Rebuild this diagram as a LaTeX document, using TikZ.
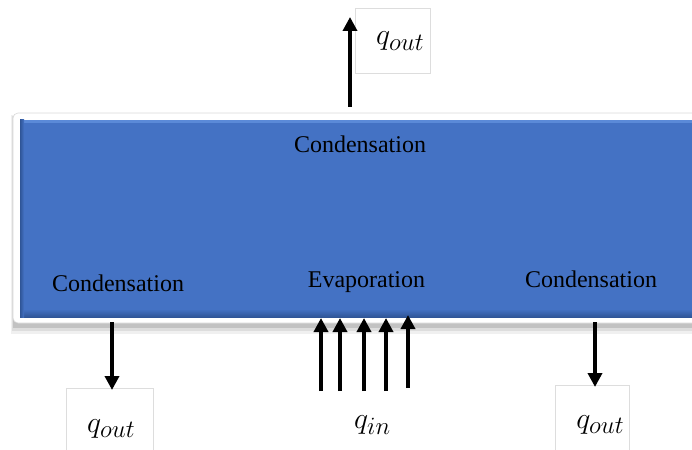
\documentclass[tikz,border=0pt]{standalone}
\usepackage{fontspec}
\setmainfont{Liberation Serif}
\usetikzlibrary{arrows.meta}
\definecolor{hpblue}{HTML}{4472C4}
\definecolor{hpdark}{HTML}{2F5597}
\definecolor{hplight}{HTML}{5B8AD8}
\definecolor{lblline}{HTML}{DDDDDD}
\begin{document}
\begin{tikzpicture}[x=1pt,y=-1pt,
  lbl/.style={draw=lblline,line width=0.6pt,fill=white,inner sep=0pt},
  word/.style={font=\fontsize{24}{28}\selectfont,anchor=base,inner sep=0pt},
  qtext/.style={font=\fontsize{24.88}{30}\selectfont,scale=1.2,anchor=base west,inner sep=0pt},
  flow/.style={line width=3.5pt,-{Triangle[width=14pt,length=14pt]}}]
\useasboundingbox (0,0) rectangle (692,449);
% shadow
\fill[black,opacity=0.06] (11,115) rectangle (700,334);
\fill[black,opacity=0.08] (12,116) rectangle (700,331);
\fill[black,opacity=0.12] (13,117) rectangle (700,328);
% white frame
\fill[white,draw=black!15,line width=0.6pt,rounded corners=5pt] (13,113) rectangle (705,323);
% blue bevel box
\node[fill=hpblue,minimum width=690pt,minimum height=197pt,inner sep=0pt,anchor=north west] (pipe) at (20,120) {};
\fill[hplight] (20,120) rectangle (700,123);
\shade[top color=hpblue,bottom color=hpdark] (20,309) rectangle (700,317);
\shade[left color=hpdark,right color=hpblue] (20,120) rectangle (24,317);
% label boxes
\node[lbl,minimum width=75pt,minimum height=65pt,anchor=north west] (btop) at (355,8) {};
\node[lbl,minimum width=87pt,minimum height=70pt,anchor=north west] (bleft) at (66,388) {};
\node[lbl,minimum width=74pt,minimum height=70pt,anchor=north west] (bright) at (555,385) {};
% words
\node[word] (ctop) at (360,153) {Condensation};
\node[word] (cleft) at (118,291) {Condensation};
\node[word] (evap) at (366.5,287) {Evaporation};
\node[word] (cright) at (591,287) {Condensation};
% q labels
\node[qtext] (qtop) at (376,45) {$q_{out}$};
\node[qtext] (qleft) at (87,432) {$q_{out}$};
\node[qtext] (qright) at (576,428) {$q_{out}$};
\node[qtext] (qin) at (354,428) {$q_{in}$};
% arrow end points
\coordinate (t0) at (350,107);
\coordinate (t1) at (350,17);
\coordinate (l0) at (112,322);
\coordinate (l1) at (112,390);
\coordinate (r0) at (595,322);
\coordinate (r1) at (595,387);
\coordinate (a0) at (321,391); \coordinate (a1) at (321,318);
\coordinate (b0) at (340,391); \coordinate (b1) at (340,318);
\coordinate (c0) at (364,391); \coordinate (c1) at (364,318);
\coordinate (d0) at (386,391); \coordinate (d1) at (386,318);
\coordinate (e0) at (408,388); \coordinate (e1) at (408,315);
\draw[flow] (t0) -- (t1);
\draw[flow] (l0) -- (l1);
\draw[flow] (r0) -- (r1);
\draw[flow] (a0) -- (a1);
\draw[flow] (b0) -- (b1);
\draw[flow] (c0) -- (c1);
\draw[flow] (d0) -- (d1);
\draw[flow] (e0) -- (e1);
\end{tikzpicture}
\end{document}
